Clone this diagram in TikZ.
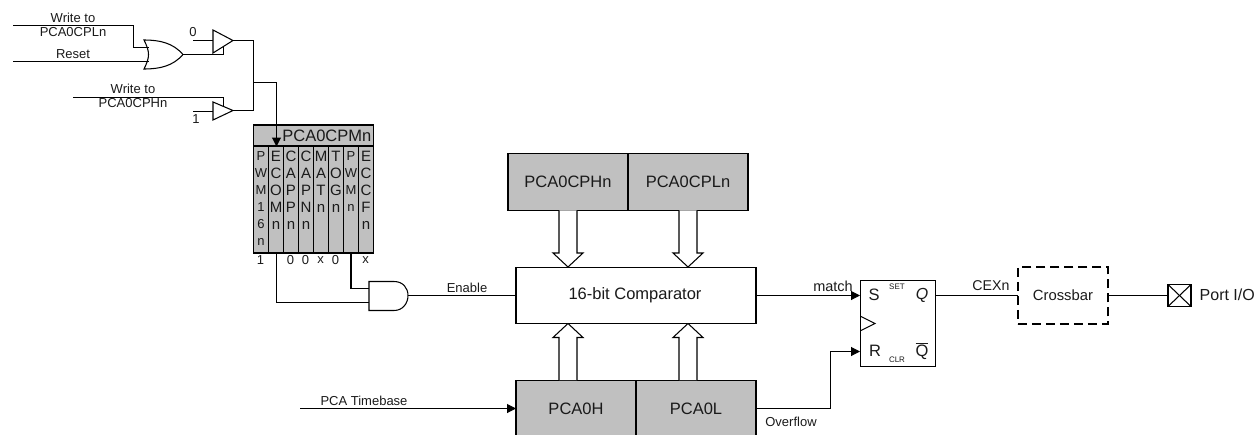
\documentclass[tikz,border=0pt]{standalone}
\usepackage{fontspec}
\setmainfont{Liberation Sans}
\usetikzlibrary{arrows.meta,calc}
\newcommand\fsz[1]{\fontsize{#1}{#1}\selectfont}
\newcommand\fszb[1]{\fontsize{#1}{17}\selectfont}
\newcommand\busarrow[3]{\draw[wire,fill=white] ($(#1)+(-9,0)$) -- ($(#2)+(-9,-14*#3)$) -- ($(#2)+(-15,-14*#3)$) -- (#2) -- ($(#2)+(15,-14*#3)$) -- ($(#2)+(9,-14*#3)$) -- ($(#1)+(9,0)$);}
\definecolor{regfill}{HTML}{C0C0C0}
\definecolor{inkc}{HTML}{1A1A1A}
\tikzset{
  wire/.style={draw=black,line width=1.05pt,line join=miter},
  sig/.style={wire,-{Triangle[length=9pt,width=9pt]}},
  lab/.style={text=inkc,inner sep=0pt,font=\fsz{13}},
  big/.style={text=inkc,inner sep=0pt,font=\fsz{16.5}},
  tiny/.style={text=inkc,inner sep=0pt,font=\fsz{8}},
  reg/.style={wire,fill=regfill,inner sep=0pt,outer sep=0pt,minimum width=120pt,minimum height=56.5pt,text=inkc,font=\fsz{16.5}},
  cellbox/.style={wire,fill=regfill,inner sep=0pt,outer sep=0pt,minimum width=15pt,minimum height=107pt},
  stack/.style={anchor=north,inner sep=0pt,align=center,text=inkc,font=\fszb{15}},
  stacksm/.style={stack,font=\fszb{13}},
}
\begin{document}
\begin{tikzpicture}[x=1pt,y=-1pt]
\useasboundingbox (0,0) rectangle (1256,434);

% register
\node[wire,fill=regfill,inner sep=0pt,outer sep=0pt,minimum width=120pt,minimum height=21pt] (hdr) at (313.5,135.5) {};
\node[big,anchor=east] (hdrt) at (371.5,135.5) {PCA0CPMn};
\node[cellbox] (c1) at (261,199.5) {};
\node[cellbox] (c2) at (276,199.5) {};
\node[cellbox] (c3) at (291,199.5) {};
\node[cellbox] (c4) at (306,199.5) {};
\node[cellbox] (c5) at (321,199.5) {};
\node[cellbox] (c6) at (336,199.5) {};
\node[cellbox] (c7) at (351,199.5) {};
\node[cellbox] (c8) at (366,199.5) {};
\node[stacksm] (t1) at (261,151) {P\\W\\M\\1\\6\\n};
\node[stack] (t2) at (276,151) {E\\C\\O\\M\\n};
\node[stack] (t3) at (291,151) {C\\A\\P\\P\\n};
\node[stack] (t4) at (306,151) {C\\A\\P\\N\\n};
\node[stack] (t5) at (321,151) {M\\A\\T\\n};
\node[stack] (t6) at (336,151) {T\\O\\G\\n};
\node[stacksm] (t7) at (351,151) {P\\W\\M\\n};
\node[stack] (t8) at (366,151) {E\\C\\C\\F\\n};
\node[lab] (v1) at (260.5,260) {1};
\node[lab] (v3) at (290.5,260) {0};
\node[lab] (v4) at (305.5,260) {0};
\node[lab] (v5) at (320.5,260) {x};
\node[lab] (v6) at (335.5,260) {0};
\node[lab] (v8) at (365.5,260) {x};

% input gates
\coordinate (wplA) at (13,25.5);
\coordinate (wplB) at (133.5,25.5);
\coordinate (orIa) at (148.5,47.5);
\coordinate (rstA) at (13,61.5);
\coordinate (orIb) at (148.5,61.5);
\coordinate (orO) at (183,54.5);
\coordinate (b1en) at (223.5,46);
\coordinate (b1in) at (213,40.5);
\coordinate (zeroA) at (193,40.5);
\coordinate (b1out) at (233,40.5);
\coordinate (b2in) at (213,111.5);
\coordinate (oneA) at (193,111.5);
\coordinate (b2out) at (233,110.5);
\coordinate (wphA) at (73,97.5);
\coordinate (b2en) at (223.5,106.5);
\coordinate (busx) at (253.5,82.5);
\coordinate (ecomTop) at (276.5,146.5);
\coordinate (ecomBot) at (276.5,253);
\draw[wire] (wplA) -- (wplB) |- (orIa);
\draw[wire] (rstA) -- (orIb);
\draw[wire] (144,40) .. controls (150,52) and (150,57) .. (144,69) .. controls (160,69) and (173,66) .. (orO) .. controls (173,43) and (160,40) .. (144,40) -- cycle;
\draw[wire] (orO) -| (b1en);
\draw[wire] (wphA) -| (b2en);
\draw[wire] (zeroA) -- (b1in);
\draw[wire] (oneA) -- (b2in);
\draw[wire] (213,30) -- (b1out) -- (213,53) -- cycle;
\draw[wire] (213,102) -- (b2out) -- (213,120) -- cycle;
\draw[wire] (b1out) -| (busx);
\draw[wire] (b2out) -| (busx);
\draw[sig] (busx) -| (ecomTop);

\node[lab] (l1) at (73,17.5) {Write to};
\node[lab] (l2) at (73,32.5) {PCA0CPLn};
\node[lab] (l3) at (73,54) {Reset};
\node[lab] (l4) at (133,88.5) {Write to};
\node[lab] (l5) at (133,103.5) {PCA0CPHn};
\node[lab] (l6) at (193,32.5) {0};
\node[lab] (l7) at (196,119.5) {1};

% AND
\coordinate (andA) at (369,288.5);
\coordinate (andB) at (369,302.5);
\coordinate (andO) at (408,295.5);
\draw[wire] (c7.south) |- (andA);
\draw[wire] (ecomBot) |- (andB);
\draw[wire] (369,281.5) -- (394,281.5) .. controls (403,281.5) and (408,288) .. (andO) .. controls (408,303) and (403,310.5) .. (394,310.5) -- (369,310.5) -- cycle;

% registers and comparator
\node[reg] (cph) at (568,182) {PCA0CPHn};
\node[reg] (cpl) at (688,182) {PCA0CPLn};
\node[reg,fill=white,minimum width=240pt] (cmp) at (636,295.5) {};
\node[big] (cmpt) at (635,295.5) {16-bit Comparator};
\node[reg] (ph) at (576,408.5) {PCA0H};
\node[reg] (pl) at (696,408.5) {PCA0L};
\coordinate (ct1) at (568,267);
\coordinate (ct2) at (688,267);
\coordinate (cb1) at (568,323.5);
\coordinate (cb2) at (688,323.5);
\coordinate (pb1) at (568,380);
\coordinate (pb2) at (688,380);
\busarrow{cph.south}{ct1}{1}
\busarrow{cpl.south}{ct2}{1}
\busarrow{pb1}{cb1}{-1}
\busarrow{pb2}{cb2}{-1}

\draw[wire] (andO) -- (cmp.west);
\node[lab] (en) at (467,288) {Enable};
\coordinate (tbA) at (300,408.5);
\draw[sig] (tbA) -- (ph.west);
\node[lab] (tb) at (364,401) {PCA Timebase};

% flip-flop
\node[wire,inner sep=0pt,outer sep=0pt,minimum width=75.5pt,minimum height=85.5pt] (ff) at (898,323.5) {};
\coordinate (ffS) at (860,295.5);
\coordinate (ffR) at (860,351.5);
\draw[sig] (cmp.east) -- (ffS);
\node[lab,font=\fsz{14.5}] (mt) at (833,286) {match};
\coordinate (ovf) at (830.5,408.5);
\draw[wire] (pl.east |- ovf) -- (ovf);
\draw[sig] (ovf) |- (ffR);
\node[lab] (ov) at (791,422) {Overflow};
\draw[wire] (861,316.5) -- (875,323.5) -- (861,330.5);
\node[big] (s) at (874,295) {S};
\node[big] (r) at (875,351) {R};
\node[big,font=\fsz{16}\itshape] (q) at (922,295) {Q};
\node[big] (qb) at (922,351) {$\overline{\mbox{Q}}$};
\node[tiny] (set) at (897,286.5) {SET};
\node[tiny] (clr) at (897,359.5) {CLR};

% crossbar and port
\node[draw=black,line width=1.9pt,dash pattern=on 9pt off 5pt,inner sep=0pt,outer sep=0pt,minimum width=90.5pt,minimum height=56.5pt] (xb) at (1063,295.5) {};
\node[big,font=\fsz{14.8}] (xbt) at (1063,295) {Crossbar};
\coordinate (ffQ) at (935.7,295.5);
\draw[wire] (ffQ) -- (xb.west);
\node[lab,font=\fsz{14.2}] (cx) at (991,286) {CEXn};
\node[wire,inner sep=0pt,outer sep=0pt,minimum width=23pt,minimum height=22pt] (pt) at (1179.5,295.5) {};
\draw[wire] (xb.east) -- (pt.west);
\draw[wire] (pt.north west) -- (pt.south east);
\draw[wire] (pt.south west) -- (pt.north east);
\node[big,anchor=west,font=\fsz{16}] (pl2) at (1199.5,295) {Port I/O};
\end{tikzpicture}
\end{document}
